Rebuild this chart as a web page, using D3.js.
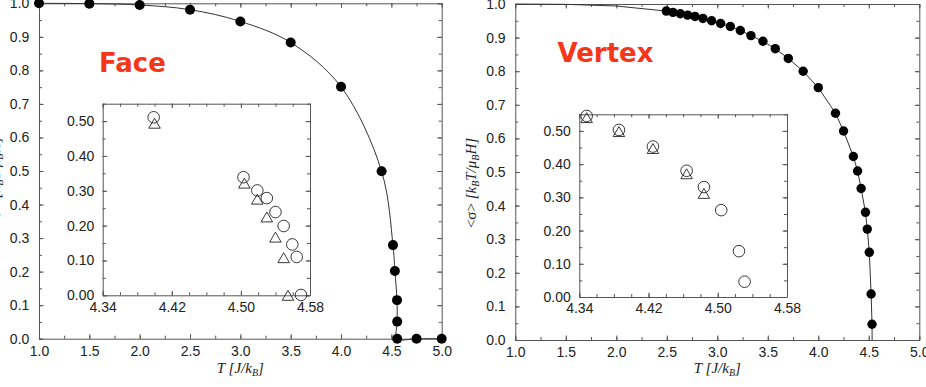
<!DOCTYPE html>
<html>
<head>
<meta charset="utf-8">
<script src="https://cdn.jsdelivr.net/npm/d3@7"></script>
<style>
  body { margin: 0; background: #fff; }
  svg { display: block; }
</style>
</head>
<body>
<svg id="chart" width="926" height="387"></svg>
<script>
// ---- data ----
// Face, main panel
const faceT = [1.0, 1.5, 2.0, 2.5, 3.0, 3.5, 4.0, 4.403, 4.516, 4.535, 4.556, 4.558, 4.558, 4.75, 5.0];
const faceM = [1.0, 0.999, 0.995, 0.981, 0.946, 0.883, 0.751, 0.499, 0.279, 0.202, 0.115, 0.051, 0.0, 0.0, 0.0];

// Face, inset (circles and triangles)
const faceCircT = [4.399, 4.503, 4.519, 4.530, 4.540, 4.5495, 4.5595, 4.5646, 4.5696];
const faceCircM = [0.511, 0.339, 0.301, 0.279, 0.239, 0.199, 0.146, 0.110, 0.001];
const faceTriT = [4.400, 4.504, 4.519, 4.530, 4.540, 4.5495, 4.5545];
const faceTriM = [0.494, 0.322, 0.276, 0.225, 0.167, 0.108, 0.0];

// Vertex, main panel (dots) and the line's extra ends
const vertT = [2.495, 2.561, 2.634, 2.706, 2.779, 2.858, 2.944, 3.033, 3.129, 3.228, 3.333, 3.452, 3.574,
  3.703, 3.850, 4.0, 4.170, 4.250, 4.347, 4.389, 4.424, 4.467, 4.485, 4.505, 4.523, 4.532];
const vertM = [0.979, 0.975, 0.971, 0.967, 0.963, 0.957, 0.950, 0.942, 0.933, 0.921, 0.906, 0.889, 0.867,
  0.838, 0.800, 0.751, 0.675, 0.622, 0.546, 0.503, 0.451, 0.380, 0.330, 0.261, 0.137, 0.047];
const vertLineHeadT = [1.0, 1.5, 2.0];
const vertLineHeadM = [1.0, 0.999, 0.994];
const vertLineTailT = [4.533];
const vertLineTailM = [0.0];

// Vertex, inset
const vertCircT = [4.3485, 4.3858, 4.4251, 4.464, 4.484, 4.504, 4.5245, 4.531];
const vertCircM = [0.545, 0.503, 0.453, 0.380, 0.331, 0.2615, 0.138, 0.046];
const vertTriT = [4.3485, 4.3858, 4.4251, 4.464, 4.484];
const vertTriM = [0.540, 0.498, 0.447, 0.371, 0.312];

// ticks
const mainXTicks = [1.0, 1.5, 2.0, 2.5, 3.0, 3.5, 4.0, 4.5, 5.0];
const mainYTicks = [0.0, 0.1, 0.2, 0.3, 0.4, 0.5, 0.6, 0.7, 0.8, 0.9, 1.0];
const insetXTicks = [4.34, 4.42, 4.50, 4.58];
const insetYTicks = [0.0, 0.1, 0.2, 0.3, 0.4, 0.5];

const zip = (a, b) => a.map((v, i) => [v, b[i]]);

const svg = d3.select("#chart");
const FRAME = "#555";
const SANS = "'Liberation Sans', Arial, sans-serif";
const SERIF = "'Liberation Serif', 'Times New Roman', serif";

// frame with inward ticks on all four sides, labels only bottom/left
function drawAxes(g, x, y, opt) {
  const [x0, x1] = x.range(), [y0, y1] = y.range();
  const sides = [
    { mk: d3.axisBottom, s: x, tr: `translate(0,${y0})`, maj: opt.xMajor, min: opt.xMinor, fmt: opt.fmtX, pad: opt.padX },
    { mk: d3.axisTop, s: x, tr: `translate(0,${y1})`, maj: opt.xMajor, min: opt.xMinor },
    { mk: d3.axisLeft, s: y, tr: `translate(${x0},0)`, maj: opt.yMajor, min: opt.yMinor, fmt: opt.fmtY, pad: opt.padY },
    { mk: d3.axisRight, s: y, tr: `translate(${x1},0)`, maj: opt.yMajor, min: opt.yMinor }
  ];
  sides.forEach(sd => {
    g.append("g").attr("transform", sd.tr)
      .call(sd.mk(sd.s).tickValues(sd.min).tickSize(-3).tickFormat(""))
      .call(a => a.select(".domain").remove())
      .call(a => a.selectAll("line").attr("stroke", FRAME));
    const ax = g.append("g").attr("transform", sd.tr)
      .call(sd.mk(sd.s).tickValues(sd.maj).tickSizeInner(-4.5).tickSizeOuter(0)
        .tickPadding(sd.pad || 0).tickFormat(sd.fmt || ""));
    ax.attr("font-size", 14).attr("font-family", SANS);
    ax.select(".domain").attr("stroke", FRAME);
    ax.selectAll("line").attr("stroke", FRAME);
    ax.selectAll("text").attr("fill", "#222");
  });
}

function panel(cfg) {
  const g = svg.append("g");
  const x = d3.scaleLinear().domain([1, 5]).range(cfg.xr);
  const y = d3.scaleLinear().domain([0, 1]).range(cfg.yr);

  drawAxes(g, x, y, {
    xMajor: mainXTicks, xMinor: d3.range(1, 5.001, 0.25),
    yMajor: mainYTicks, yMinor: d3.range(0, 1.001, 0.05),
    fmtX: d3.format(".1f"), fmtY: d3.format(".1f"), padX: 7.3, padY: 9.7
  });

  g.append("path")
    .datum(cfg.line)
    .attr("fill", "none")
    .attr("stroke", "#333")
    .attr("stroke-width", 1)
    .attr("d", d3.line().x(d => x(d[0])).y(d => y(d[1])).curve(cfg.curve));

  g.append("g").selectAll("circle")
    .data(cfg.dots)
    .join("circle")
    .attr("cx", d => x(d[0]))
    .attr("cy", d => y(d[1]))
    .attr("r", cfg.r)
    .attr("fill", "#000");

  g.append("text")
    .attr("x", cfg.label[0]).attr("y", cfg.label[1])
    .attr("font-family", "'DejaVu Sans', Verdana, sans-serif")
    .attr("font-weight", "bold")
    .attr("font-size", 26)
    .attr("fill", "#f5361a")
    .text(cfg.name);

  // x title
  const xt = g.append("text")
    .attr("x", (cfg.xr[0] + cfg.xr[1]) / 2).attr("y", 372.5)
    .attr("text-anchor", "middle")
    .attr("font-family", SERIF).attr("font-style", "italic").attr("font-size", 15)
    .attr("fill", "#222");
  xt.append("tspan").text("T [J/k");
  xt.append("tspan").attr("dy", 3).attr("font-size", 10).text("B");
  xt.append("tspan").attr("dy", -3).text("]");

  // y title
  const yt = g.append("text")
    .attr("transform", `translate(${cfg.yTitleX},${(cfg.yr[0] + cfg.yr[1]) / 2 + 11}) rotate(-90)`)
    .attr("text-anchor", "middle")
    .attr("font-family", SERIF).attr("font-size", 15)
    .attr("fill", "#222");
  yt.append("tspan").text("<σ> ");
  yt.append("tspan").attr("font-style", "italic").text("[k");
  yt.append("tspan").attr("font-style", "italic").attr("dy", 3).attr("font-size", 10).text("B");
  yt.append("tspan").attr("font-style", "italic").attr("dy", -3).text("T/μ");
  yt.append("tspan").attr("font-style", "italic").attr("dy", 3).attr("font-size", 10).text("B");
  yt.append("tspan").attr("font-style", "italic").attr("dy", -3).text("H]");

  // inset
  const ig = g.append("g");
  const ix = d3.scaleLinear().domain([4.34, 4.58]).range(cfg.ixr);
  const iy = d3.scaleLinear().domain([0, 0.55]).range(cfg.iyr);
  ig.append("rect")
    .attr("x", cfg.ixr[0]).attr("y", cfg.iyr[1])
    .attr("width", cfg.ixr[1] - cfg.ixr[0]).attr("height", cfg.iyr[0] - cfg.iyr[1])
    .attr("fill", "#fff");
  drawAxes(ig, ix, iy, {
    xMajor: insetXTicks, xMinor: d3.range(4.34, 4.581, 0.02),
    yMajor: insetYTicks, yMinor: d3.range(0, 0.551, 0.05),
    fmtX: d3.format(".2f"), fmtY: d3.format(".2f"), padX: 6.5, padY: 8.5
  });

  ig.append("g").selectAll("circle")
    .data(cfg.circ)
    .join("circle")
    .attr("cx", d => ix(d[0]))
    .attr("cy", d => iy(d[1]))
    .attr("r", 5.8)
    .attr("fill", "none")
    .attr("stroke", "#222")
    .attr("stroke-width", 0.9);

  const s = 11.5, h = s * Math.sqrt(3) / 2;
  ig.append("g").selectAll("path")
    .data(cfg.tri)
    .join("path")
    .attr("d", d => {
      const cx = ix(d[0]), cy = iy(d[1]);
      return `M${cx},${cy - h / 2}L${cx + s / 2},${cy + h / 2}L${cx - s / 2},${cy + h / 2}Z`;
    })
    .attr("fill", "none")
    .attr("stroke", "#222")
    .attr("stroke-width", 0.9);
}

panel({
  name: "Face",
  xr: [39, 441.7], yr: [338.7, 3.3],
  line: zip(faceT, faceM),
  curve: d3.curveCatmullRom.alpha(0.5),
  dots: zip(faceT, faceM), r: 5,
  label: [99, 71.5],
  yTitleX: -0.3,
  ixr: [102.7, 310], iyr: [295.3, 103.7],
  circ: zip(faceCircT, faceCircM),
  tri: zip(faceTriT, faceTriM)
});

panel({
  name: "Vertex",
  xr: [515.3, 919.3], yr: [340, 4],
  line: zip(vertLineHeadT, vertLineHeadM).concat(zip(vertT, vertM), zip(vertLineTailT, vertLineTailM)),
  curve: d3.curveLinear,
  dots: zip(vertT, vertM), r: 4.7,
  label: [557.5, 61.7],
  yTitleX: 476,
  ixr: [579.3, 787], iyr: [297, 114.3],
  circ: zip(vertCircT, vertCircM),
  tri: zip(vertTriT, vertTriM)
});
</script>
</body>
</html>
